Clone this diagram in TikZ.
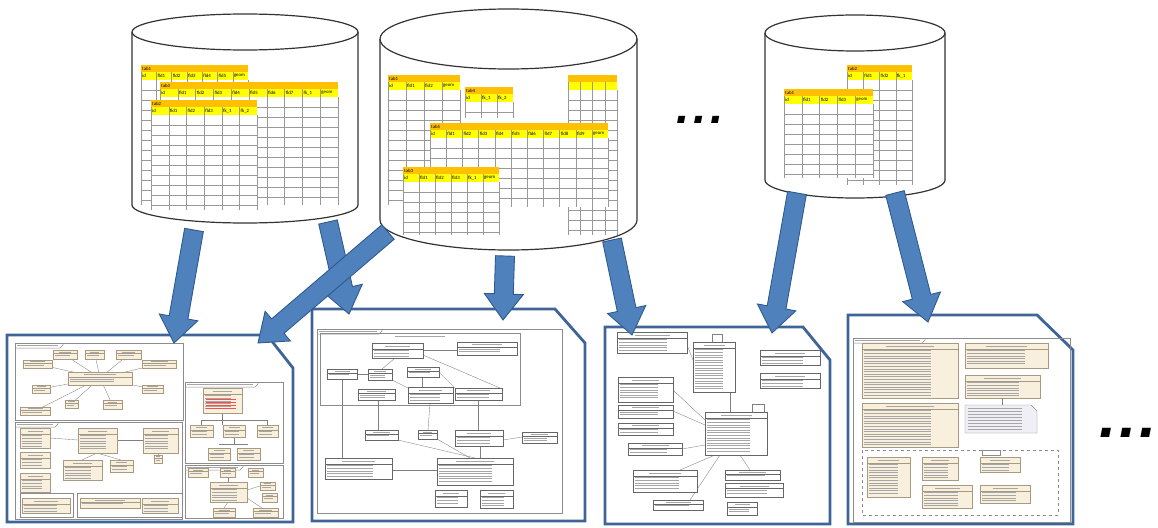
\documentclass[tikz,border=0pt]{standalone}
\usepackage{fontspec}
\setmainfont{Carlito}
\newfontfamily\tabfont{Carlito}
\newfontfamily\dotfont{Liberation Sans}
\usetikzlibrary{calc}
\definecolor{hdrorange}{HTML}{FFC000}
\definecolor{rowyellow}{HTML}{FFFF00}
\definecolor{arrowfill}{HTML}{4F81BD}
\definecolor{arrowedge}{HTML}{2F5A8F}
\definecolor{docblue}{HTML}{3F6497}
\definecolor{umlbeige}{HTML}{F8EFDD}
\definecolor{umledge}{HTML}{A89A80}
\definecolor{notefill}{HTML}{F0EFF6}
\tikzset{
  cyl/.style={draw=black!80, line width=1.2pt, fill=white},
  gridline/.style={draw=black!40, line width=0.35pt},
  tabtxt/.style={font=\tabfont\fontsize{4.8}{4.8}\selectfont, anchor=west, inner sep=0pt},
  docshape/.style={draw=docblue, line width=2.8pt, fill=white, line join=miter},
  barrow/.style={fill=arrowfill, draw=arrowedge, line width=0.9pt, line join=miter},
  umlb/.style={fill=umlbeige, draw=umledge, line width=0.4pt},
  umlw/.style={fill=white, draw=black!60, line width=0.4pt},
  txtline/.style={draw=black!35, line width=0.6pt},
  frm/.style={draw=black!45, line width=0.5pt},
  link/.style={draw=black!50, line width=0.35pt},
  dotsty/.style={font=\dotfont\bfseries\itshape\fontsize{48}{48}\selectfont, anchor=base, inner sep=0pt},
}
% table grid without text: x, y, colwidth, ncols, bottom
\newcommand\dbgrid[5]{%
  \pgfmathsetmacro\tw{#3*#4}%
  \fill[white] (#1,#2) rectangle ({#1+\tw},#5);
  \fill[hdrorange] (#1,#2) rectangle ({#1+\tw},{#2+7});
  \fill[rowyellow] (#1,{#2+7}) rectangle ({#1+\tw},{#2+15});
  \pgfmathtruncatemacro\nr{max(1,floor((#5-#2-15)/10))}%
  \foreach \k in {1,...,\nr} \draw[gridline] (#1,{#2+15+10*\k}) -- ({#1+\tw},{#2+15+10*\k});
  \pgfmathtruncatemacro\nc{#4-1}%
  \foreach \k in {1,...,\nc} \draw[gridline] ({#1+\k*#3},{#2+7}) -- ({#1+\k*#3},#5);
  \draw[gridline] (#1,{#2+7}) -- (#1,#5);
  \draw[gridline] ({#1+\tw},{#2+15}) -- ({#1+\tw},#5);
}
% table with texts: x, y, colwidth, ncols, bottom, name, labels
\newcommand\dbtab[7]{%
  \dbgrid{#1}{#2}{#3}{#4}{#5}%
  \node[tabtxt] at ({#1+1},{#2+3.6}) {#6};
  \foreach \lab [count=\k] in {#7} \node[tabtxt] at ({#1+(\k-1)*#3+1},{#2+11.2}) {\lab};
}
% cylinder: cx, rx, ytop, ybot, ry
\newcommand\cylinder[5]{%
  \draw[cyl] ({#1-#2},#3) -- ({#1-#2},#4) arc[start angle=180,end angle=0,x radius=#2,y radius=#5]
    -- ({#1+#2},#3) arc[start angle=0,end angle=-180,x radius=#2,y radius=#5] -- cycle;
  \draw[cyl, fill=none] ({#1-#2},#3) arc[start angle=180,end angle=0,x radius=#2,y radius=#5];
}
% document with cut corner: L, T, C, R, D, B
\newcommand\docpage[6]{%
  \draw[docshape] (#1,#2) -- (#3,#2) -- (#4,#5) -- (#4,#6) -- (#1,#6) -- cycle;
}
% uml class box: [style] x1 y1 x2 y2
\newcommand\umlbox[5][umlb]{%
  \pgfmathsetmacro\ha{#3+min(6,0.4*(#5-#3))}%
  \draw[#1] (#2,#3) rectangle (#4,#5);
  \draw[#1] (#2,\ha) -- (#4,\ha);
  \pgfmathsetmacro\mx{(#2+#4)/2}%
  \pgfmathsetmacro\hw{0.25*(#4-#2)}%
  \draw[txtline] ({\mx-\hw},{(#3+\ha)/2}) -- ({\mx+\hw},{(#3+\ha)/2});
  \pgfmathtruncatemacro\nl{floor((#5-\ha-1)/2.6)}%
  \ifnum\nl>0
    \foreach \k in {1,...,\nl} \draw[txtline] ({#2+2},{\ha+\k*2.6-0.9}) -- ({#2+0.72*(#4-#2)},{\ha+\k*2.6-0.9});
  \fi
}
% frame label tab: x y w
\newcommand\ftab[3]{%
  \draw[frm] (#1,{#2+5}) -- ({#1+#3},{#2+5}) -- ({#1+#3+3},{#2+2}) -- ({#1+#3+3},#2);
  \draw[txtline] ({#1+2},{#2+2.5}) -- ({#1+#3-2},{#2+2.5});
}
% block arrow from #1 to #2
\newcommand\blockarrow[2]{%
  \draw[barrow] let \p1=(#1), \p2=(#2), \n1={atan2(\y2-\y1,\x2-\x1)} in
    ($(#1)+(\n1+90:9.5pt)$) -- ($(#2)+(\n1+180:26pt)+(\n1+90:9.5pt)$)
    -- ($(#2)+(\n1+180:26pt)+(\n1+90:19.5pt)$) -- (#2)
    -- ($(#2)+(\n1+180:26pt)+(\n1-90:19.5pt)$) -- ($(#2)+(\n1+180:26pt)+(\n1-90:9.5pt)$)
    -- ($(#1)+(\n1-90:9.5pt)$) -- cycle;
}
\begin{document}
\begin{tikzpicture}[x=1pt,y=-1pt]
\useasboundingbox (0,0) rectangle (1158,527);
\fill[white] (0,0) rectangle (1158,527);

% ---------- databases ----------
\cylinder{245}{113}{32}{205}{18}
\dbtab{141}{65}{15.3}{7}{205}{tab1}{id,fld1,fld2,fld3,fld4,fld5,geom}
\dbtab{160}{82}{17.8}{10}{205}{tab3}{id,fld1,fld2,fld3,fld4,fld5,fld6,fld7,fk\_1,geom}
\dbtab{151}{100}{17.7}{6}{210}{tab2}{id,fld1,fld2,fld3,fk\_1,fk\_2}

\cylinder{508.5}{128.5}{39}{220}{30}
\dbtab{388}{75}{18}{4}{205}{tab1}{id,fld1,fld2,geom}
\dbgrid{568}{75}{12.25}{4}{235}
\dbtab{465}{87}{16}{3}{118}{tab4}{id,fk\_1,fk\_2}
\dbtab{430}{123}{16.2}{11}{207}{tab5}{id,fld1,fld2,fld3,fld4,fld5,fld6,fld7,fld8,fld9,geom}
\dbtab{403}{167}{16}{6}{235}{tab3}{id,fld1,fld2,fld3,fk\_1,geom}

\cylinder{855}{90}{33}{180}{18}
\dbtab{847}{65}{16.25}{4}{185}{tab2}{id,fld1,fld2,fk\_1}
\dbtab{784}{89}{17.8}{5}{178}{tab1}{id,fld1,fld2,fld3,geom}

% ---------- documents ----------
% doc 1
\docpage{7}{335}{267}{293}{368}{522}
\draw[frm] (15,343) rectangle (183,420); \ftab{15}{343}{45}
\draw[frm] (15,422) rectangle (182,519); \ftab{15}{422}{40}
\draw[frm] (20,493) rectangle (73,517);
\draw[frm] (77,493) rectangle (182,517);
\draw[frm] (185,382) rectangle (283,463); \ftab{185}{382}{70}
\draw[frm] (185,465) rectangle (283,518); \ftab{185}{465}{55}
\foreach \px/\py in {65/355,95/355,128/355,37/364,159/364,41/389,152/389,71/404,112/404,35/411}
  \draw[link] (100,378) -- (\px,\py);
\draw[link] (50,438) -- (78,440); \draw[link] (117,440) -- (143,440);
\draw[link] (97,453) -- (82,460); \draw[link] (97,453) -- (121,460);
\draw[link] (160,453) -- (158,455);
\draw[link] (222,413) -- (222,425); \draw[link] (201,420) -- (267,420);
\draw[link] (201,420) -- (201,425); \draw[link] (267,420) -- (267,425);
\draw[link] (234,437) -- (234,444); \draw[link] (219,444) -- (248,444);
\draw[link] (228,477) -- (228,482); \draw[link] (247,490) -- (260,486);
\draw[link] (228,502) -- (224,508); \draw[link] (247,498) -- (262,508);
\umlbox{53}{350}{77}{359}
\umlbox{85}{350}{104}{359}
\umlbox{116}{350}{141}{359}
\umlbox{23}{360}{52}{368}
\umlbox{142}{360}{176}{368}
\umlbox{68}{372}{132}{385}
\umlbox{32}{385}{50}{393}
\umlbox{142}{385}{163}{393}
\umlbox{65}{400}{78}{408}
\umlbox{103}{400}{122}{409}
\umlbox{20}{407}{50}{415}
\umlbox{20}{428}{50}{448}
\umlbox{78}{428}{117}{453}
\umlbox{143}{428}{178}{453}
\umlbox{20}{452}{50}{468}
\umlbox{63}{460}{102}{480}
\umlbox{110}{460}{133}{472}
\umlbox{154}{455}{162}{463}
\umlbox{20}{473}{50}{492}
\umlbox{22}{498}{70}{513}
\umlbox{80}{498}{140}{508}
\umlbox{142}{498}{178}{513}
\umlbox{203}{388}{242}{413}
\foreach \ly in {399,402,405,408} \draw[red!70, line width=0.5pt] (206,\ly) -- (236,\ly);
\umlbox{190}{425}{213}{437}
\umlbox{223}{425}{245}{437}
\umlbox{257}{425}{278}{437}
\umlbox{208}{448}{230}{460}
\umlbox{237}{448}{260}{460}
\umlbox{188}{468}{208}{477}
\umlbox{220}{468}{235}{477}
\umlbox{248}{468}{263}{477}
\umlbox{210}{482}{247}{502}
\umlbox{260}{482}{275}{490}
\umlbox{262}{493}{277}{502}
\umlbox{213}{508}{235}{517}
\umlbox{253}{508}{278}{517}

% doc 2
\docpage{312}{309}{555}{585}{343}{521}
\draw[frm] (317,329) rectangle (562,513); \ftab{317}{329}{62}
\draw[frm] (320,333) rectangle (520,405);
\draw[txtline] (395,336) -- (445,336);
\draw[link] (342,379) -- (342,458);
\draw[link] (378,400) -- (378,430);
\draw[link] (430,403) -- (428,430);
\draw[link] (478,400) -- (478,430);
\draw[link] (398,440) -- (475,458);
\draw[link] (437,439) -- (470,458);
\draw[link] (480,446) -- (480,458);
\draw[link] (503,440) -- (522,437);
\draw[link] (392,470) -- (437,470);
\draw[link] (423,350) -- (457,350);
\draw[link] (357,374) -- (368,374);
\draw[link] (395,358) -- (382,369);
\draw[link] (423,355) -- (500,388);
\draw[link] (439,372) -- (455,388);
\draw[link] (422,377) -- (422,387);
\draw[link] (392,380) -- (410,389);
\umlbox[umlw]{372}{343}{423}{358}
\umlbox[umlw]{457}{342}{517}{355}
\umlbox[umlw]{327}{369}{357}{379}
\umlbox[umlw]{368}{369}{392}{380}
\umlbox[umlw]{407}{367}{439}{377}
\umlbox[umlw]{358}{389}{395}{400}
\draw[line width=0.9pt, draw=black!70, fill=white] (408,387) rectangle (453,403);
\umlbox[umlw]{408}{387}{453}{403}
\umlbox[umlw]{455}{388}{502}{400}
\umlbox[umlw]{365}{430}{398}{440}
\umlbox[umlw]{418}{430}{437}{439}
\umlbox[umlw]{455}{430}{503}{446}
\umlbox[umlw]{522}{432}{557}{443}
\umlbox[umlw]{325}{458}{392}{479}
\umlbox[umlw]{437}{458}{513}{485}
\umlbox[umlw]{435}{490}{467}{507}
\umlbox[umlw]{480}{490}{513}{508}

% doc 3
\docpage{605}{327}{803}{830}{360}{524}
\draw[link] (673,390) -- (705,420);
\draw[link] (673,411) -- (705,425);
\draw[link] (682,449) -- (705,445);
\draw[link] (680,470) -- (715,455);
\draw[link] (690,500) -- (720,455);
\draw[link] (750,470) -- (740,455);
\draw[link] (730,392) -- (730,412);
\draw[link] (687,345) -- (693,360);
\draw[link] (712,342) -- (712,334) -- (722,334) -- (722,342);
\draw[link] (752,412) -- (752,404) -- (764,404) -- (764,416) -- (767,416);
\umlbox[umlw]{617}{332}{687}{353}
\umlbox[umlw]{693}{342}{735}{392}
\umlbox[umlw]{760}{350}{820}{365}
\umlbox[umlw]{760}{373}{820}{388}
\umlbox[umlw]{618}{377}{673}{402}
\umlbox[umlw]{618}{405}{673}{418}
\umlbox[umlw]{618}{423}{673}{435}
\umlbox[umlw]{705}{412}{767}{455}
\umlbox[umlw]{628}{443}{682}{455}
\umlbox[umlw]{633}{470}{697}{492}
\umlbox[umlw]{725}{470}{780}{480}
\umlbox[umlw]{725}{483}{783}{497}
\umlbox[umlw]{653}{500}{703}{510}
\umlbox[umlw]{727}{502}{757}{515}

% doc 4
\docpage{848}{315}{1037}{1073}{350}{524}
\draw[frm] (853,338) rectangle (1070,522); \ftab{853}{338}{69}
\draw[frm, dashed] (862,450) rectangle (1058,515);
\draw[frm] (982,450) rectangle (1000,455);
\umlbox{862}{343}{958}{398}
\umlbox{965}{343}{1048}{368}
\umlbox{965}{375}{1040}{398}
\umlbox{862}{403}{958}{447}
\draw[link] (1002,398) -- (1002,405);
\draw[fill=notefill, draw=black!45, line width=0.4pt] (965,405) -- (1031,405) -- (1037,411) -- (1037,433) -- (965,433) -- cycle;
\foreach \k in {1,...,8} \draw[txtline, line width=0.5pt] (968,{407+3*\k-1.5}) -- (1022,{407+3*\k-1.5});
\umlbox{867}{457}{910}{497}
\umlbox{922}{457}{958}{480}
\umlbox{980}{457}{1020}{472}
\umlbox{922}{485}{972}{508}
\umlbox{980}{485}{1030}{503}

% ---------- arrows ----------
\coordinate (s1) at (194,230); \coordinate (e1) at (174,343);
\coordinate (s2) at (328,222); \coordinate (e2) at (349,314);
\coordinate (s3) at (388,232); \coordinate (e3) at (258,343);
\coordinate (s4) at (505,256); \coordinate (e4) at (503,320);
\coordinate (s5) at (612,240); \coordinate (e5) at (632,335);
\coordinate (s6) at (797,193); \coordinate (e6) at (772,333);
\coordinate (s7) at (895,193); \coordinate (e7) at (928,322);
\blockarrow{s1}{e1}
\blockarrow{s2}{e2}
\blockarrow{s3}{e3}
\blockarrow{s4}{e4}
\blockarrow{s5}{e5}
\blockarrow{s6}{e6}
\blockarrow{s7}{e7}

% ---------- ellipses ----------
\node[dotsty] (dotsA) at (700,123) {.\kern4pt.\kern4pt.};
\node[dotsty, font=\dotfont\bfseries\itshape\fontsize{62}{62}\selectfont] (dotsB) at (1128,437) {.\kern2.5pt.\kern2.5pt.};
\end{tikzpicture}
\end{document}
